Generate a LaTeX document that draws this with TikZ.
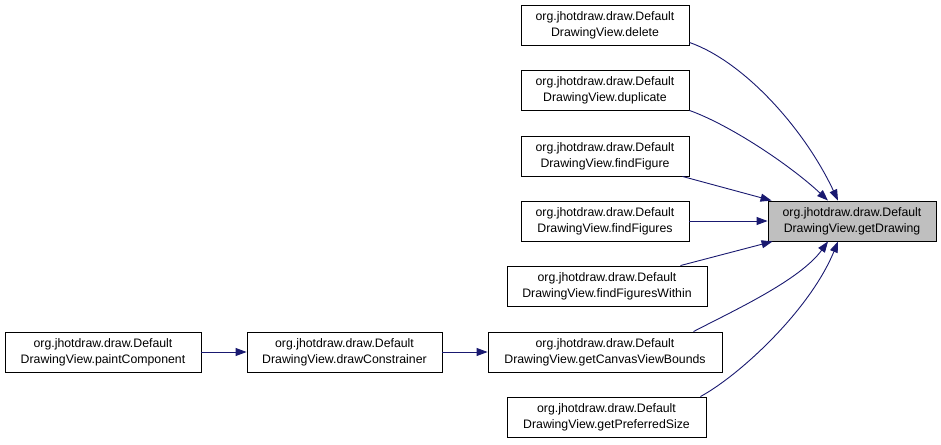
\documentclass[tikz,border=0pt]{standalone}
\usepackage{fontspec}
\setmainfont{Liberation Sans}
\usetikzlibrary{arrows.meta}
\definecolor{edgeblue}{HTML}{191970}
\definecolor{hilite}{HTML}{BFBFBF}
\begin{document}
\begin{tikzpicture}[x=1pt,y=-1pt,
  fn/.style={draw=black,line width=0.9pt,fill=white,minimum height=40pt,inner sep=0pt,
    align=center,font=\fontsize{12.3pt}{16pt}\selectfont},
  edge/.style={draw=edgeblue,line width=0.9pt,-{Triangle[length=11pt,width=8pt]}}]
\useasboundingbox (0,0) rectangle (941,444);
\node[fn,minimum width=168pt] (del) at (605,25) {org.jhotdraw.draw.Default\\DrawingView.delete};
\node[fn,minimum width=168pt] (dup) at (605,90) {org.jhotdraw.draw.Default\\DrawingView.duplicate};
\node[fn,minimum width=168pt] (ff) at (605,156) {org.jhotdraw.draw.Default\\DrawingView.findFigure};
\node[fn,minimum width=168pt] (ffs) at (605,221) {org.jhotdraw.draw.Default\\DrawingView.findFigures};
\node[fn,minimum width=200pt] (ffw) at (607,286) {org.jhotdraw.draw.Default\\DrawingView.findFiguresWithin};
\node[fn,minimum width=234pt] (gcv) at (605,352) {org.jhotdraw.draw.Default\\DrawingView.getCanvasViewBounds};
\node[fn,minimum width=199pt] (gps) at (606.5,417) {org.jhotdraw.draw.Default\\DrawingView.getPreferredSize};
\node[fn,minimum width=168pt,fill=hilite] (gd) at (852,221) {org.jhotdraw.draw.Default\\DrawingView.getDrawing};
\node[fn,minimum width=196pt] (pc) at (103,352) {org.jhotdraw.draw.Default\\DrawingView.paintComponent};
\node[fn,minimum width=195pt] (dc) at (344.5,352) {org.jhotdraw.draw.Default\\DrawingView.drawConstrainer};

\draw[edge] ([yshift=3pt]del.south east) .. controls (745,62) and (805,130) .. ([xshift=-14pt]gd.north);
\draw[edge] (dup.south east) .. controls (730,125) and (790,165) .. ([xshift=-24pt]gd.north);
\draw[edge] ([xshift=-7pt]ff.south east) -- ([xshift=4pt]gd.north west);
\draw[edge] (ffs.east) -- (gd.west);
\draw[edge] ([xshift=-27pt]ffw.north east) -- ([xshift=5pt]gd.south west);
\draw[edge] ([xshift=-29pt]gcv.north east) .. controls (735,310) and (800,280) .. ([xshift=-24pt]gd.south);
\draw[edge] ([xshift=-6pt]gps.north east) .. controls (740,375) and (810,310) .. ([xshift=-14pt]gd.south);
\draw[edge] (dc.east) -- (gcv.west);
\draw[edge] (pc.east) -- (dc.west);
\end{tikzpicture}
\end{document}
